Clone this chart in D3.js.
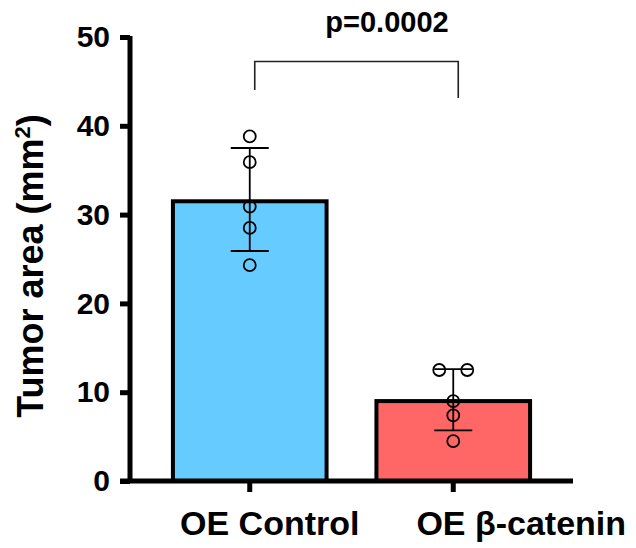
<!DOCTYPE html>
<html>
<head>
<meta charset="utf-8">
<script src="https://cdn.jsdelivr.net/npm/d3@7"></script>
<style>
  body { margin: 0; background: #fff; }
  text { font-family: "Liberation Sans", Arial, sans-serif; font-weight: bold; }
</style>
</head>
<body>
<div id="chart"></div>
<script>
var groups = ["OE Control", "OE β-catenin"];
var means = [31.5, 9.0];
var sdUpper = [37.5, 12.6];
var sdLower = [25.9, 5.7];
var colors = ["#66CCFF", "#FF6666"];
var pointsControl = [38.8, 35.9, 30.9, 28.5, 24.3];
var pointsCatenin = [12.5, 12.5, 9.0, 7.4, 4.5];
var yTicks = [0, 10, 20, 30, 40, 50];
var pLabel = "p=0.0002";

var points = [pointsControl, pointsCatenin];
// horizontal jitter of the dots (px)
var pointOffsets = [[0, 0, 0, 0, 0], [-14, 14, 0, 0, 0]];
// label shift to the right of the tick (px), as in the original figure
var labelShift = [20, 68];

var width = 636, height = 548;

var svg = d3.select("#chart")
    .append("svg")
    .attr("width", width)
    .attr("height", height);

var y = d3.scaleLinear()
    .domain([0, 50])
    .range([481, 37]);

var x = d3.scaleBand()
    .domain(groups)
    .range([148.5, 554.5])
    .paddingInner(0.245)
    .paddingOuter(0.12);

// bars
svg.selectAll("rect.bar")
    .data(groups)
    .enter()
    .append("rect")
    .attr("class", "bar")
    .attr("x", function(d) { return x(d); })
    .attr("y", function(d, i) { return y(means[i]); })
    .attr("width", x.bandwidth())
    .attr("height", function(d, i) { return y(0) - y(means[i]); })
    .attr("fill", function(d, i) { return colors[i]; })
    .attr("stroke", "#000")
    .attr("stroke-width", 4);

// error bars + dots
groups.forEach(function(g, i) {
    var cx = x(g) + x.bandwidth() / 2;
    var eg = svg.append("g").attr("stroke", "#000").attr("stroke-width", 1.8);
    eg.append("line")
        .attr("x1", cx).attr("x2", cx)
        .attr("y1", y(sdUpper[i])).attr("y2", y(sdLower[i]));
    [sdUpper[i], sdLower[i]].forEach(function(v) {
        eg.append("line")
            .attr("x1", cx - 19).attr("x2", cx + 19)
            .attr("y1", y(v)).attr("y2", y(v));
    });

    svg.selectAll("circle.g" + i)
        .data(points[i])
        .enter()
        .append("circle")
        .attr("class", "g" + i)
        .attr("cx", function(d, j) { return cx + pointOffsets[i][j]; })
        .attr("cy", function(d) { return y(d); })
        .attr("r", 6)
        .attr("fill", "none")
        .attr("stroke", "#000")
        .attr("stroke-width", 1.8);
});

// axes
var yAxis = svg.append("g")
    .attr("transform", "translate(130,0)")
    .call(d3.axisLeft(y).tickValues(yTicks).tickSize(10).tickPadding(10));
yAxis.select(".domain").attr("stroke-width", 5).attr("d", "M0," + (y(50) - 1) + "V" + (y(0) + 2));
yAxis.selectAll(".tick line").attr("stroke-width", 5);
yAxis.selectAll(".tick text")
    .attr("font-size", 30)
    .attr("fill", "#000");

var xAxis = svg.append("g")
    .attr("transform", "translate(0,481)")
    .call(d3.axisBottom(x).tickSize(11).tickPadding(19));
xAxis.select(".domain").attr("stroke-width", 5).attr("d", "M120,0H573");
xAxis.selectAll(".tick line").attr("stroke-width", 5);
xAxis.selectAll(".tick text")
    .attr("font-size", 34)
    .attr("fill", "#000")
    .attr("dx", function(d, i) { return labelShift[i]; });

// y axis title
var yTitle = svg.append("text")
    .attr("transform", "translate(43,266) rotate(-90)")
    .attr("text-anchor", "middle")
    .attr("font-size", 36)
    .attr("fill", "#000");
yTitle.append("tspan").text("Tumor area (mm");
yTitle.append("tspan").attr("font-size", 22).attr("dy", -13).text("2");
yTitle.append("tspan").attr("dy", 13).text(")");

// significance bracket
var x1 = x(groups[0]) + x.bandwidth() / 2 + 5;
var x2 = x(groups[1]) + x.bandwidth() / 2 + 5;
svg.append("path")
    .attr("d", "M" + x1 + ",90V61.5H" + x2 + "V98")
    .attr("fill", "none")
    .attr("stroke", "#222")
    .attr("stroke-width", 1.6);

svg.append("text")
    .attr("x", 387)
    .attr("y", 32)
    .attr("text-anchor", "middle")
    .attr("font-size", 29)
    .attr("fill", "#000")
    .text(pLabel);
</script>
</body>
</html>
